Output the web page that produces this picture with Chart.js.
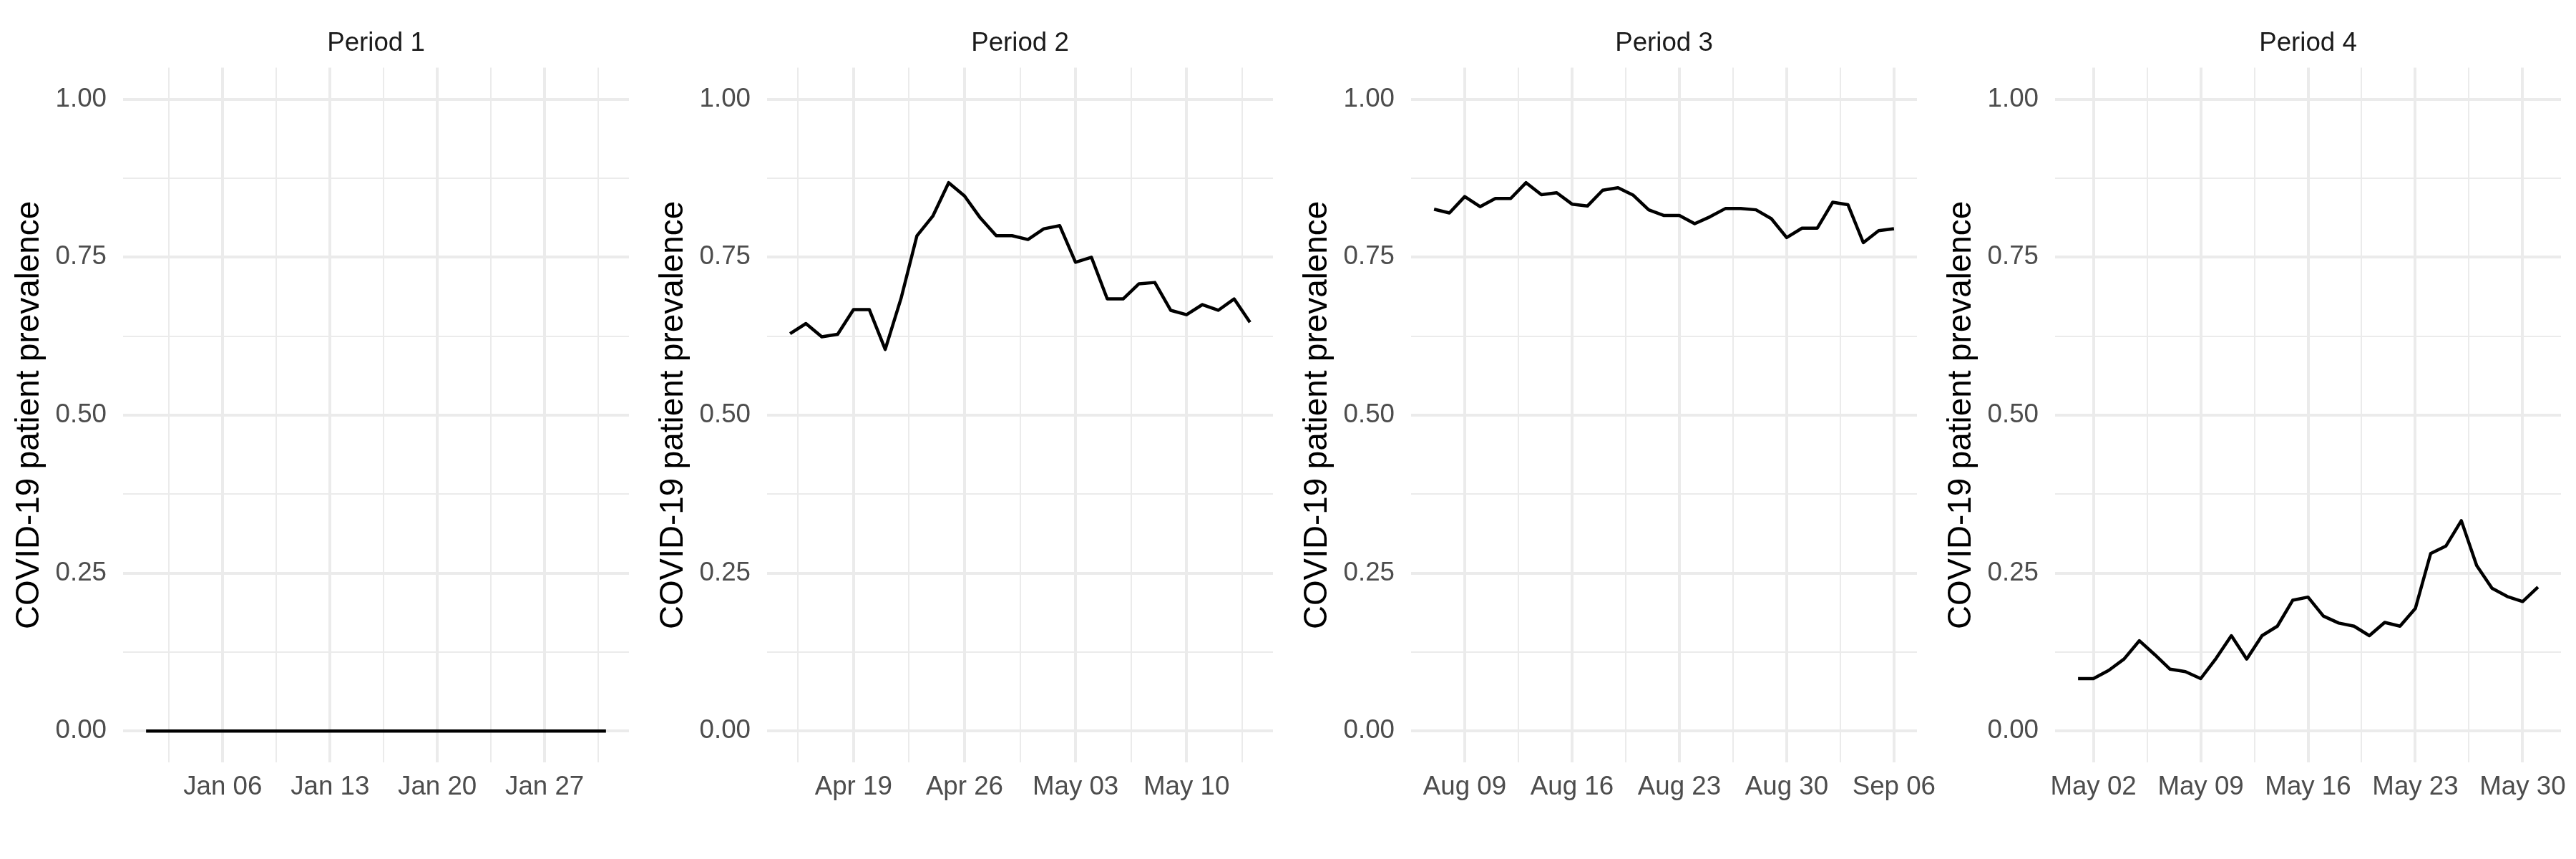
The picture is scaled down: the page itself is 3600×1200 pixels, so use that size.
<!DOCTYPE html>
<html>
<head>
<meta charset="utf-8">
<script src="https://cdn.jsdelivr.net/npm/chart.js@4.4.1/dist/chart.umd.min.js"></script>
<style>
  html, body { margin: 0; padding: 0; background: #ffffff; }
  #wrap { position: relative; width: 3600px; height: 1200px; background: #ffffff; overflow: hidden; }
  canvas { display: block; position: absolute; top: 0; }
  #c1 { left: 0px; }
  #c2 { left: 900px; }
  #c3 { left: 1800px; }
  #c4 { left: 2700px; }
</style>
</head>
<body>
<div id="wrap">
  <canvas id="c1" width="960" height="1200"></canvas>
  <canvas id="c2" width="960" height="1200"></canvas>
  <canvas id="c3" width="960" height="1200"></canvas>
  <canvas id="c4" width="960" height="1200"></canvas>
</div>
<script>
// ---------------- DATA ----------------
const periodTitles = ['Period 1', 'Period 2', 'Period 3', 'Period 4'];
const yAxisTitle = 'COVID-19 patient prevalence';

// first date of each daily series
const period1Start = '2020-01-01';
const period2Start = '2020-04-15';
const period3Start = '2021-08-07';
const period4Start = '2022-05-01';

// daily prevalence values
const period1Values = [0, 0, 0, 0, 0, 0, 0, 0, 0, 0, 0, 0, 0, 0, 0, 0, 0, 0, 0, 0, 0, 0, 0, 0, 0, 0, 0, 0, 0, 0, 0];
const period2Values = [0.629, 0.645, 0.624, 0.628, 0.667, 0.667, 0.604, 0.685, 0.784, 0.815,
                       0.868, 0.847, 0.812, 0.784, 0.784, 0.778, 0.795, 0.800, 0.742, 0.750,
                       0.684, 0.684, 0.708, 0.710, 0.666, 0.659, 0.675, 0.666, 0.684, 0.647];
const period3Values = [0.826, 0.820, 0.846, 0.830, 0.843, 0.843, 0.868, 0.849, 0.852, 0.834,
                       0.831, 0.856, 0.860, 0.848, 0.825, 0.816, 0.816, 0.803, 0.814, 0.827,
                       0.827, 0.825, 0.811, 0.781, 0.796, 0.796, 0.837, 0.833, 0.773, 0.792, 0.795];
const period4Values = [0.083, 0.083, 0.096, 0.114, 0.143, 0.121, 0.098, 0.094, 0.083, 0.115,
                       0.151, 0.114, 0.151, 0.166, 0.207, 0.212, 0.182, 0.171, 0.166, 0.151,
                       0.172, 0.166, 0.194, 0.281, 0.293, 0.333, 0.262, 0.226, 0.213, 0.205, 0.228];

// x tick labels and the dates they sit on
const period1TickDates = ['2020-01-06', '2020-01-13', '2020-01-20', '2020-01-27'];
const period1TickLabels = ['Jan 06', 'Jan 13', 'Jan 20', 'Jan 27'];
const period2TickDates = ['2020-04-19', '2020-04-26', '2020-05-03', '2020-05-10'];
const period2TickLabels = ['Apr 19', 'Apr 26', 'May 03', 'May 10'];
const period3TickDates = ['2021-08-09', '2021-08-16', '2021-08-23', '2021-08-30', '2021-09-06'];
const period3TickLabels = ['Aug 09', 'Aug 16', 'Aug 23', 'Aug 30', 'Sep 06'];
const period4TickDates = ['2022-05-02', '2022-05-09', '2022-05-16', '2022-05-23', '2022-05-30'];
const period4TickLabels = ['May 02', 'May 09', 'May 16', 'May 23', 'May 30'];

// y ticks
const yMajorTicks = [0, 0.25, 0.5, 0.75, 1];
const yMinorTicks = [0.125, 0.375, 0.625, 0.875];
const yTickLabels = ['0.00', '0.25', '0.50', '0.75', '1.00'];

// ---------------- CHART ----------------
const FONT = "'Liberation Sans', Arial, Helvetica, sans-serif";
const GRID = '#EBEBEB';

function dayNum(iso) {
  const p = iso.split('-').map(Number);
  return Date.UTC(p[0], p[1] - 1, p[2]) / 86400000;
}

function makeChart(id, title, start, values, tickDates, tickLabels) {
  const x0 = dayNum(start);
  const pts = values.map((v, i) => ({ x: x0 + i, y: v }));
  const span = values.length - 1;
  const lo = x0 - 0.05 * span;
  const hi = x0 + span + 0.05 * span;

  const majors = tickDates.map(dayNum);
  const labelMap = new Map();
  majors.forEach((m, k) => labelMap.set(Math.round(m * 2), tickLabels[k]));
  let xt = [];
  majors.forEach((m, k) => {
    if (k === 0) xt.push(m - 3.5);
    xt.push(m);
    xt.push(m + 3.5);
  });
  xt = xt.filter(v => v > lo && v < hi);

  const yMajorSet = new Set(yMajorTicks.map(v => Math.round(v * 1000)));
  const yLabelMap = new Map(yMajorTicks.map((v, k) => [Math.round(v * 1000), yTickLabels[k]]));
  const yt = yMajorTicks.concat(yMinorTicks).sort((a, b) => a - b);

  return new Chart(document.getElementById(id), {
    type: 'line',
    data: {
      datasets: [{
        data: pts,
        borderColor: '#000000',
        borderWidth: 4.5,
        pointRadius: 0,
        fill: false,
        tension: 0,
        borderJoinStyle: 'round',
        borderCapStyle: 'butt'
      }]
    },
    options: {
      responsive: false,
      animation: false,
      devicePixelRatio: 1,
      layout: { padding: { left: 0, right: 81, top: 0, bottom: 0 } },
      plugins: {
        legend: { display: false },
        tooltip: { enabled: false },
        title: {
          display: true,
          text: title,
          fullSize: false,
          color: '#1A1A1A',
          font: { family: FONT, size: 36.7, weight: 'normal', lineHeight: 1.2 },
          padding: { top: 39, bottom: 11.5 }
        }
      },
      scales: {
        x: {
          type: 'linear',
          min: lo,
          max: hi,
          border: { display: false },
          grid: {
            color: GRID,
            drawTicks: false,
            lineWidth: ctx => (ctx.tick && labelMap.has(Math.round(ctx.tick.value * 2))) ? 4 : 2
          },
          ticks: {
            autoSkip: false,
            maxRotation: 0,
            minRotation: 0,
            padding: 12.6,
            color: '#4D4D4D',
            font: { family: FONT, size: 36.7, lineHeight: 1.2 },
            callback: v => labelMap.get(Math.round(v * 2)) || ''
          },
          afterBuildTicks: s => { s.ticks = xt.map(v => ({ value: v })); },
          afterFit: s => { s.height = 134.6; s.paddingLeft = 0; s.paddingRight = 0; }
        },
        y: {
          type: 'linear',
          min: -0.05,
          max: 1.05,
          border: { display: false },
          grid: {
            color: GRID,
            drawTicks: false,
            lineWidth: ctx => (ctx.tick && yMajorSet.has(Math.round(ctx.tick.value * 1000))) ? 4 : 2
          },
          ticks: {
            autoSkip: false,
            padding: 23,
            color: '#4D4D4D',
            font: { family: FONT, size: 36.7, lineHeight: 1.2 },
            callback: v => yLabelMap.get(Math.round(v * 1000)) || ''
          },
          title: {
            display: true,
            text: yAxisTitle,
            color: '#000000',
            font: { family: FONT, size: 45.8, weight: 'normal', lineHeight: 1.2 },
            padding: { top: 14, bottom: 0 }
          },
          afterBuildTicks: s => { s.ticks = yt.map(v => ({ value: v })); },
          afterFit: s => { s.width = 172; s.paddingTop = 0; s.paddingBottom = 0; }
        }
      }
    }
  });
}

makeChart('c1', periodTitles[0], period1Start, period1Values, period1TickDates, period1TickLabels);
makeChart('c2', periodTitles[1], period2Start, period2Values, period2TickDates, period2TickLabels);
makeChart('c3', periodTitles[2], period3Start, period3Values, period3TickDates, period3TickLabels);
makeChart('c4', periodTitles[3], period4Start, period4Values, period4TickDates, period4TickLabels);
</script>
</body>
</html>
